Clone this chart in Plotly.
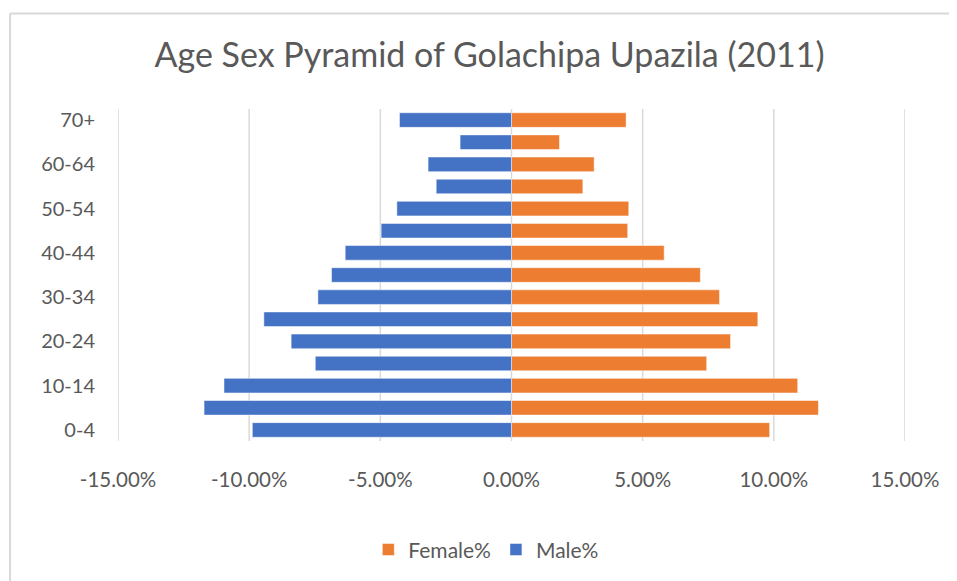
import plotly.graph_objects as go

age_groups = ["0-4", "5-9", "10-14", "15-19", "20-24", "25-29", "30-34", "35-39",
              "40-44", "45-49", "50-54", "55-59", "60-64", "65-69", "70+"]
female_pct = [9.84, 11.70, 10.91, 7.44, 8.35, 9.39, 7.93, 7.20,
              5.82, 4.43, 4.47, 2.72, 3.15, 1.83, 4.37]
male_pct = [-9.88, -11.72, -10.96, -7.48, -8.40, -9.44, -7.38, -6.86,
            -6.34, -4.97, -4.37, -2.87, -3.18, -1.96, -4.27]
x_ticks = [-15, -10, -5, 0, 5, 10, 15]
x_tick_labels = ["-15.00%", "-10.00%", "-5.00%", "0.00%", "5.00%", "10.00%", "15.00%"]
y_tick_labels = age_groups[::2]

FONT = "Lato"
GREY = "#595959"
W, H = 949, 573  # page body has an 8px margin

fig = go.Figure()
fig.add_trace(go.Bar(
    y=age_groups, x=female_pct, orientation="h", name="Female%",
    marker=dict(color="#ED7D31", line=dict(color="rgba(255,255,255,0.5)", width=1)),
))
fig.add_trace(go.Bar(
    y=age_groups, x=male_pct, orientation="h", name="Male%",
    marker=dict(color="#4472C4", line=dict(color="rgba(255,255,255,0.5)", width=1)),
))

fig.update_layout(
    width=W, height=H,
    margin=dict(l=110, r=52, t=101, b=139),
    paper_bgcolor="white", plot_bgcolor="white",
    barmode="relative", bargap=0.34,
    font=dict(family=FONT, color=GREY, size=20),
    title=dict(text="Age Sex Pyramid of Golachipa Upazila (2011)",
               x=481.5 / W, xanchor="center", y=1 - 47 / H, yanchor="middle",
               font=dict(family=FONT, size=34, color=GREY)),
    xaxis=dict(range=[-15, 15], tickvals=x_ticks, ticktext=x_tick_labels,
               showgrid=False, zeroline=False, showline=False,
               ticks="", ticklabelstandoff=24,
               tickfont=dict(size=20.5, color=GREY), fixedrange=True),
    yaxis=dict(categoryorder="array", categoryarray=age_groups,
               range=[-0.5, len(age_groups) - 0.5],
               tickvals=y_tick_labels, ticktext=y_tick_labels,
               showgrid=False, zeroline=False, showline=False,
               ticks="", ticklabelstandoff=22,
               tickfont=dict(size=20, color=GREY), fixedrange=True),
    legend=dict(orientation="h", x=0.468, xanchor="center", y=-0.324, yanchor="middle",
                traceorder="normal", font=dict(size=21, color=GREY),
                itemclick=False, itemdoubleclick=False),
    showlegend=True,
)

# vertical gridlines at each x tick, spanning the plot area only
for xv in x_ticks:
    fig.add_shape(type="line", xref="x", yref="paper", x0=xv, x1=xv, y0=0, y1=1,
                  line=dict(color="#D9D9D9", width=1.5), layer="below")

border = dict(type="line", xref="paper", yref="paper",
              line=dict(color="#D9D9D9", width=2), layer="below")
fig.add_shape(**border, x0=-0.1372, x1=1.07, y0=1.288, y1=1.288)
fig.add_shape(**border, x0=-0.1372, x1=-0.1372, y0=1.288, y1=-0.43)

fig.write_html("out.html")
